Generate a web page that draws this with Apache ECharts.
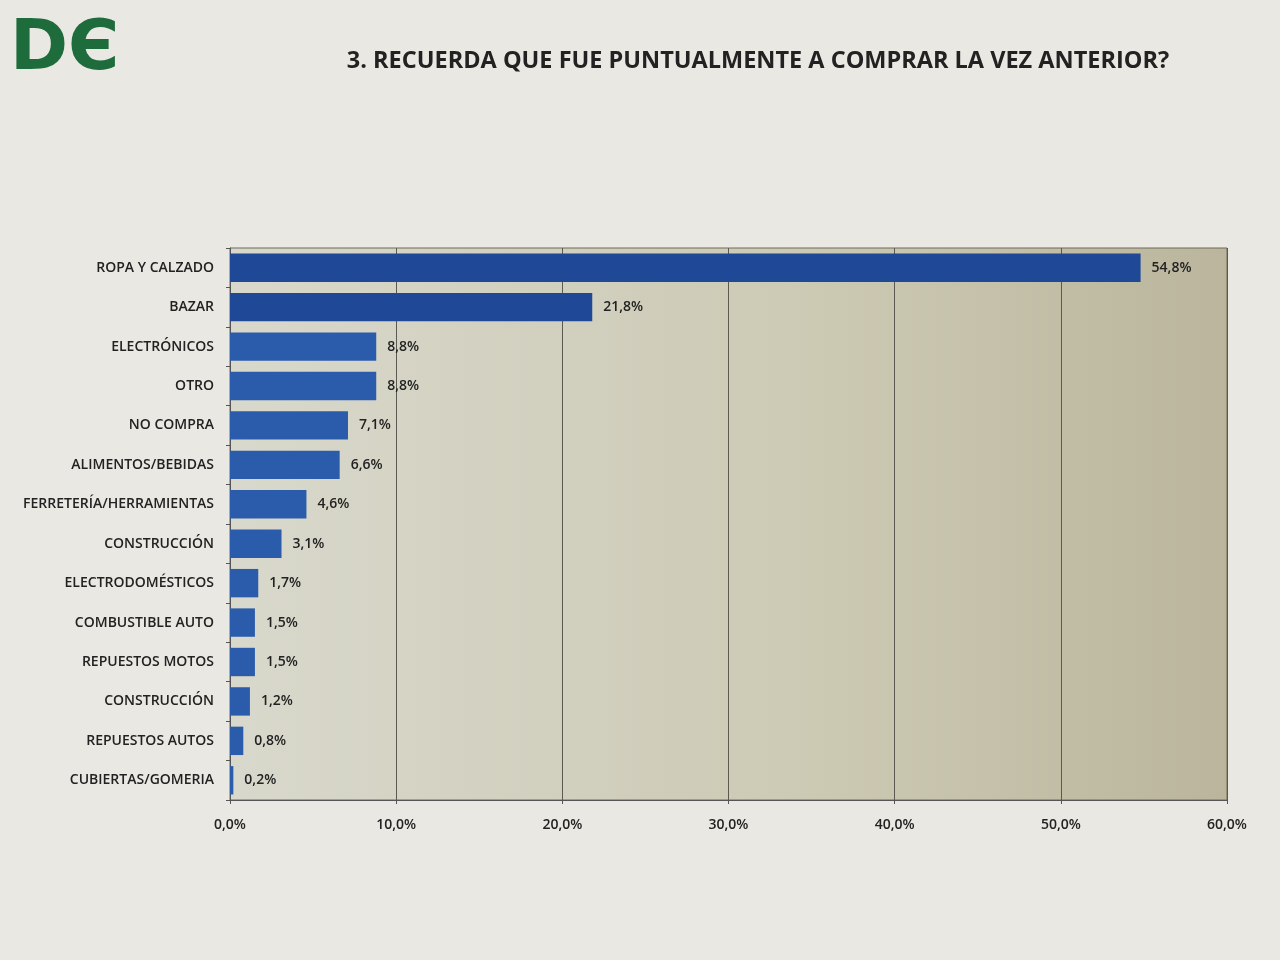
<!DOCTYPE html>
<html>
<head>
<meta charset="utf-8">
<script src="https://cdn.jsdelivr.net/npm/echarts@6/dist/echarts.min.js"></script>
<style>
  html, body { margin: 0; padding: 0; background: #e9e8e3; }
  #chart { width: 1280px; height: 960px; }
</style>
</head>
<body>
<div id="chart"></div>
<script>
// categories listed bottom -> top (category axis on y starts at bottom)
const categories = [
  'CUBIERTAS/GOMERIA', 'REPUESTOS AUTOS', 'CONSTRUCCIÓN', 'REPUESTOS MOTOS',
  'COMBUSTIBLE AUTO', 'ELECTRODOMÉSTICOS', 'CONSTRUCCIÓN', 'FERRETERÍA/HERRAMIENTAS',
  'ALIMENTOS/BEBIDAS', 'NO COMPRA', 'OTRO', 'ELECTRÓNICOS', 'BAZAR', 'ROPA Y CALZADO'
];
const values = [0.2, 0.8, 1.2, 1.5, 1.5, 1.7, 3.1, 4.6, 6.6, 7.1, 8.8, 8.8, 21.8, 54.8];
const xTicks = [0, 10, 20, 30, 40, 50, 60];

const fmt = v => v.toFixed(1).replace('.', ',') + '%';
const font = '"Open Sans", Lato, sans-serif';

const chart = echarts.init(document.getElementById('chart'));
chart.setOption({
  backgroundColor: '#e9e8e3',
  textStyle: { fontFamily: font },
  title: {
    text: '3. RECUERDA QUE FUE PUNTUALMENTE A COMPRAR LA VEZ ANTERIOR?',
    left: 753, top: 44, textAlign: 'center',
    textStyle: { fontSize: 23.5, fontWeight: 'bold', color: '#222', fontFamily: font }
  },
  graphic: [{
    type: 'text', left: 10, top: 16,
    style: { text: 'DЄ', fontSize: 70, fontWeight: 'bold', fill: '#1e6b3c', fontFamily: 'DejaVu Sans' }
  }],
  grid: {
    left: 230, right: 53, top: 248, bottom: 160,
    show: true, borderWidth: 1, borderColor: '#6f6a58',
    backgroundColor: new echarts.graphic.LinearGradient(0, 0, 1, 0, [
      { offset: 0, color: '#d8d8cc' },
      { offset: 0.6, color: '#ccc9b3' },
      { offset: 1, color: '#bab59c' }
    ])
  },
  xAxis: {
    type: 'value', min: xTicks[0], max: xTicks[xTicks.length - 1], interval: 10,
    axisLine: { show: true, lineStyle: { color: '#555' } },
    axisTick: { show: true, length: 4, lineStyle: { color: '#555' } },
    splitLine: { show: true, lineStyle: { color: '#5a5a52', width: 1 } },
    axisLabel: { formatter: fmt, fontSize: 14, fontWeight: 600, color: '#222', margin: 18, fontFamily: font }
  },
  yAxis: {
    type: 'category', data: categories,
    axisLine: { show: true, lineStyle: { color: '#555' } },
    axisTick: { show: true, length: 4, lineStyle: { color: '#555' } },
    axisLabel: { fontSize: 14, fontWeight: 600, color: '#222', margin: 16, fontFamily: font }
  },
  series: [{
    type: 'bar', data: values, barWidth: '72%',
    itemStyle: {
      color: p => p.dataIndex >= 12 ? '#1f4897' : '#2b5cab'
    },
    label: {
      show: true, position: 'right', distance: 11,
      formatter: p => fmt(p.value),
      fontSize: 14, fontWeight: 600, color: '#222', fontFamily: font
    }
  }]
});
</script>
</body>
</html>
